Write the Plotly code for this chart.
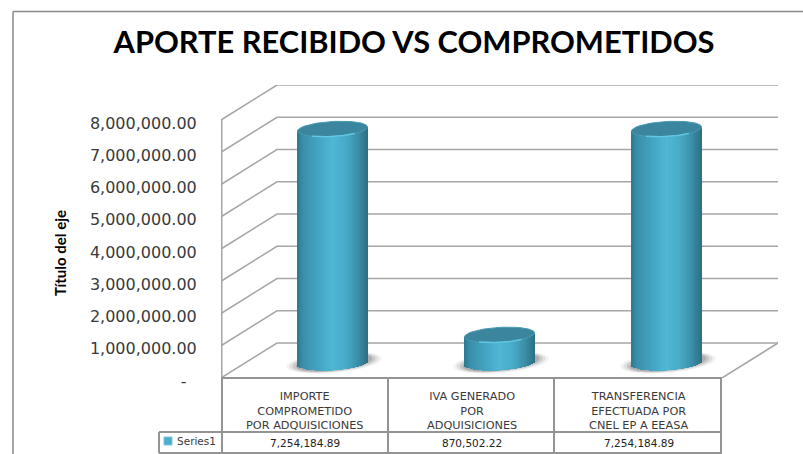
import numpy as np
import plotly.graph_objects as go

# Data
categories = [
    "IMPORTE<br>COMPROMETIDO<br>POR ADQUISICIONES",
    "IVA GENERADO<br>POR<br>ADQUISICIONES",
    "TRANSFERENCIA<br>EFECTUADA POR<br>CNEL EP A EEASA",
]
values = [7254184.89, 870502.22, 7254184.89]
value_labels = ["7,254,184.89", "870,502.22", "7,254,184.89"]
series_name = "Series1"
axis_title = "Título del eje"
tick_values = [0, 1000000, 2000000, 3000000, 4000000, 5000000, 6000000, 7000000, 8000000]
tick_labels = ["-\u00a0\u00a0", "1,000,000.00", "2,000,000.00", "3,000,000.00", "4,000,000.00",
               "5,000,000.00", "6,000,000.00", "7,000,000.00", "8,000,000.00"]

# Layout of the fake 3D box, in figure pixels
WIDTH, HEIGHT = 803, 454
LEFT, RIGHT, TOP, BOTTOM = 221, 778, 85, 378
GRID = "#a6a6a6"
TABLE = "#949494"
BODY_STOPS = [(0.0, "#2f7890"), (0.07, "#3a8ea9"), (0.3, "#44a5c2"), (0.5, "#50b7d5"),
              (0.7, "#48abc8"), (0.88, "#3a8ba5"), (1.0, "#2d6f84")]

PER_CAT = (722 - LEFT) / 3
DEPTH_X = (RIGHT - 722) / PER_CAT       # box depth in category units
PER_VAL = 32.25 / 1e6                   # pixels per unit of value
DEPTH_Y = 35 / PER_VAL                  # box depth in value units
X_MIN, X_MAX = -0.5, 2.5 + DEPTH_X
Y_MAX = (BOTTOM - TOP) / PER_VAL

A = 35 / PER_CAT                        # cylinder radius, category units
B = 7.5 / PER_VAL                       # ellipse minor radius, value units
TILT = 2 / PER_VAL                      # rise of the ellipse's right end
CYL_DX, CYL_DY = DEPTH_X / 2, DEPTH_Y * 0.43


def px(x):
    return (x - LEFT) / (RIGHT - LEFT)


def py(y):
    return (BOTTOM - y) / (BOTTOM - TOP)


def body_color(t):
    pos = [s[0] for s in BODY_STOPS]
    rgb = [[int(s[1][i:i + 2], 16) for s in BODY_STOPS] for i in (1, 3, 5)]
    return "rgb(%d,%d,%d)" % tuple(np.interp(t, pos, c) for c in rgb)


def ellipse(cx, cy, a=A, b=B, tilt=TILT, start=0, stop=2 * np.pi, n=73):
    ang = np.linspace(start, stop, n)
    return cx + a * np.cos(ang), cy + b * np.sin(ang) + tilt * np.cos(ang)


shapes = []

# Back wall and side wall grid lines, one per tick
for v in tick_values:
    shapes.append(dict(
        type="path", layer="below", xref="x", yref="y",
        path="M %f %f L %f %f L %f %f" % (X_MIN, v, X_MIN + DEPTH_X, v + DEPTH_Y, X_MAX, v + DEPTH_Y),
        line=dict(color=GRID, width=1.5),
    ))
# Front edge of the side wall, and right edge of the floor
shapes.append(dict(type="line", layer="below", xref="x", yref="y",
                   x0=X_MIN, y0=0, x1=X_MIN, y1=tick_values[-1], line=dict(color=GRID, width=3)))
shapes.append(dict(type="line", layer="below", xref="x", yref="y",
                   x0=2.5, y0=0, x1=X_MAX, y1=DEPTH_Y, line=dict(color=GRID, width=1.5)))

# Soft shadows on the floor
for i in range(3):
    for scale, alpha in ((1.36, 0.07), (1.27, 0.1), (1.18, 0.15), (1.09, 0.2)):
        sx, sy = ellipse(i + CYL_DX + 1.5 / PER_CAT, CYL_DY + 0.5 / PER_VAL, a=A * scale, b=B * scale,
                         tilt=TILT * 2)
        path = "M " + " L ".join("%f %f" % p for p in zip(sx, sy)) + " Z"
        shapes.append(dict(type="path", layer="below", xref="x", yref="y", path=path,
                           fillcolor="rgba(70,70,70,%.2f)" % alpha, line=dict(width=0)))

fig = go.Figure()

# Each cylinder body is a run of thin bars shaded left to right
STRIPS = 40
ts = (np.arange(STRIPS) + 0.5) / STRIPS
strip_width = 2 * A / STRIPS
for i, val in enumerate(values):
    cx = i + CYL_DX
    offs = (2 * ts - 1)
    low = CYL_DY + TILT * offs - B * np.sqrt(1 - offs ** 2)
    high = val + CYL_DY + TILT * offs
    fig.add_trace(go.Bar(
        x=cx + A * offs, y=high - low, base=low,
        width=strip_width * 1.25,
        marker=dict(color=[body_color(t) for t in ts], line=dict(width=0)),
        showlegend=False, hoverinfo="skip",
    ))

# Cylinder tops, with the light rim along their front edge
for i, val in enumerate(values):
    cx = i + CYL_DX
    tx, ty = ellipse(cx, val + CYL_DY)
    fig.add_trace(go.Scatter(x=tx, y=ty, mode="lines", fill="toself", fillcolor="#3b859e",
                             line=dict(color="#4a9ab3", width=1), showlegend=False, hoverinfo="skip"))
    rx, ry = ellipse(cx, val + CYL_DY, start=1.3 * np.pi, stop=1.72 * np.pi, n=25)
    fig.add_trace(go.Scatter(x=rx, y=ry, mode="lines", line=dict(color="#63c6e2", width=1.5),
                             showlegend=False, hoverinfo="skip"))

# Data table below the box
for x in [159, 222, 388, 554, 721]:
    top = 432 if x == 159 else 378
    shapes.append(dict(type="line", xref="paper", yref="paper", x0=px(x), x1=px(x), y0=py(top), y1=py(453),
                       line=dict(color=TABLE, width=2)))
for y, x0 in ((378, 221), (432, 159), (453, 159)):
    shapes.append(dict(type="line", xref="paper", yref="paper", x0=px(x0), x1=px(722), y0=py(y), y1=py(y),
                       line=dict(color=TABLE, width=2)))
# Legend key in the table
shapes.append(dict(type="rect", xref="paper", yref="paper", x0=px(164), x1=px(172), y0=py(437), y1=py(445),
                   fillcolor="#4aaecb", line=dict(color="#7fc8dd", width=1)))
# Outer chart border, cut off by the page on the right and bottom
shapes.append(dict(type="line", xref="paper", yref="paper", x0=px(13), x1=px(WIDTH), y0=py(11.5), y1=py(11.5),
                   line=dict(color="#8a8a8a", width=1.5)))
shapes.append(dict(type="line", xref="paper", yref="paper", x0=px(13), x1=px(13), y0=py(11.5), y1=py(HEIGHT),
                   line=dict(color="#8a8a8a", width=1.5)))

annotations = []
for i, (cat, lab) in enumerate(zip(categories, value_labels)):
    annotations.append(dict(x=i, y=py(410.5), xref="x", yref="paper", text=cat, showarrow=False,
                            xanchor="center", yanchor="middle",
                            font=dict(family="DejaVu Sans", size=11.3, color="#3a3a3a")))
    annotations.append(dict(x=i, y=py(443), xref="x", yref="paper", text=lab, showarrow=False,
                            xanchor="center", yanchor="middle",
                            font=dict(family="DejaVu Sans", size=10.5, color="#222222")))
annotations.append(dict(x=px(196), y=py(441), xref="paper", yref="paper", text=series_name, showarrow=False,
                        xanchor="center", yanchor="middle",
                        font=dict(family="DejaVu Sans", size=10.5, color="#3a3a3a")))
annotations.append(dict(x=px(60), y=py(253), xref="paper", yref="paper", text="<b>" + axis_title + "</b>",
                        showarrow=False, textangle=-90, xanchor="center", yanchor="middle",
                        font=dict(family="Lato", size=15, color="#000000")))

fig.update_layout(
    width=WIDTH, height=HEIGHT,
    margin=dict(l=LEFT, r=WIDTH - RIGHT, t=TOP, b=HEIGHT - BOTTOM, autoexpand=False),
    paper_bgcolor="white", plot_bgcolor="white",
    barmode="overlay", bargap=0, showlegend=False,
    title=dict(text="<b>APORTE RECIBIDO VS COMPROMETIDOS</b>", x=414 / WIDTH, xanchor="center",
               y=1 - 42 / HEIGHT, yanchor="middle", yref="container",
               font=dict(family="Lato", size=30.8, color="#000000")),
    shapes=shapes, annotations=annotations,
)
fig.update_xaxes(range=[X_MIN, X_MAX], showgrid=False, zeroline=False, showticklabels=False, ticks="")
fig.update_yaxes(
    range=[0, Y_MAX], tickvals=tick_values, ticktext=tick_labels,
    showgrid=False, zeroline=False, showline=False,
    ticks="outside", ticklen=20, tickcolor="rgba(0,0,0,0)",
    ticklabelshift=3,
    tickfont=dict(family="DejaVu Sans", size=16, color="#3a3a3a"),
)

fig.write_html("out.html", config={"displayModeBar": False},
               post_script="document.body.style.margin='0';")
